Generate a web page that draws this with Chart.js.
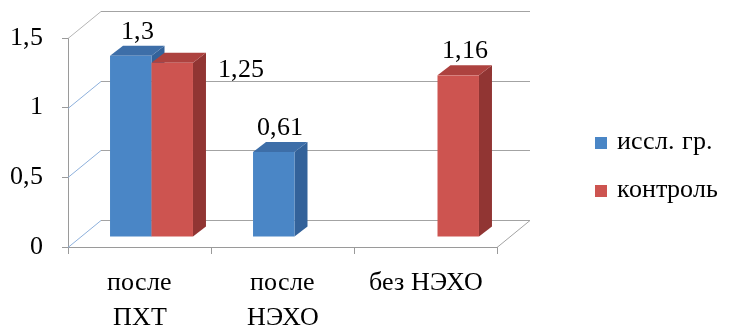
<!DOCTYPE html>
<html>
<head>
<meta charset="utf-8">
<script src="https://cdn.jsdelivr.net/npm/chart.js@4/dist/chart.umd.min.js"></script>
<style>
  @font-face { font-family: 'ChartSerif'; src: local('Liberation Serif'), local('LiberationSerif'); }
  html, body { margin: 0; padding: 0; background: #ffffff; }
  #wrap { width: 733px; height: 328px; }
</style>
</head>
<body>
<div id="wrap"><canvas id="c" width="733" height="328"></canvas></div>
<script>
// Categories, series and axis ticks
const categories = [['после', 'ПХТ'], ['после', 'НЭХО'], 'без НЭХО'];
const seriesNames = ['иссл. гр.', 'контроль'];
const studyValues = [1.3, 0.61, null];
const controlValues = [1.25, null, 1.16];
const yTicks = [0, 0.5, 1, 1.5];

const FONT = "ChartSerif";
const fmt = v => String(v).replace('.', ',');

// Pseudo-3D geometry: back wall offset, bar plane offset and bar depth
const WALL = { dx: 33, dy: -27 };
const BAR_SHIFT = { dx: 12, dy: -10 };
const BAR_DEPTH = { dx: 13, dy: -10 };

const palette = [
  { front: '#4a86c6', side: '#33629a', top: '#3d6ea8', key: '#4a86c6' },
  { front: '#cd5450', side: '#913533', top: '#ad423f', key: '#cd5450' }
];

function line(ctx, x1, y1, x2, y2, color) {
  ctx.beginPath();
  ctx.strokeStyle = color;
  ctx.lineWidth = 1;
  ctx.moveTo(x1, y1);
  ctx.lineTo(x2, y2);
  ctx.stroke();
}

function poly(ctx, pts, color) {
  ctx.beginPath();
  ctx.moveTo(pts[0][0], pts[0][1]);
  for (let i = 1; i < pts.length; i++) ctx.lineTo(pts[i][0], pts[i][1]);
  ctx.closePath();
  ctx.fillStyle = color;
  ctx.fill();
}

const box3d = {
  id: 'box3d',
  afterDatasetsDraw(chart) {
    const ctx = chart.ctx;
    const area = chart.chartArea;
    const ys = chart.scales.y;
    ctx.save();

    // back wall gridlines and side wall diagonals
    yTicks.forEach(v => {
      const py = Math.round(ys.getPixelForValue(v)) + 0.5;
      line(ctx, area.left + WALL.dx, py + WALL.dy, area.right + WALL.dx, py + WALL.dy, '#a3a3a3');
      const sideColor = v === yTicks[yTicks.length - 1] ? '#b5b5b5' : '#8db0dc';
      line(ctx, area.left, py, area.left + WALL.dx, py + WALL.dy, sideColor);
    });
    // right edge of the floor
    const fy = Math.round(ys.getPixelForValue(0)) + 0.5;
    line(ctx, area.right, fy, area.right + WALL.dx, fy + WALL.dy, '#a3a3a3');

    // bars, left to right so each bar covers the side of its neighbour
    const metas = chart.data.datasets.map((d, i) => chart.getDatasetMeta(i));
    const labels = [];
    for (let j = 0; j < chart.data.labels.length; j++) {
      metas.forEach((meta, i) => {
        const val = chart.data.datasets[i].data[j];
        if (val === null || val === undefined) return;
        const el = meta.data[j];
        const p = el.getProps(['x', 'y', 'base', 'width'], true);
        const c = palette[i];
        const l = p.x - p.width / 2 + BAR_SHIFT.dx;
        const r = l + p.width;
        const t = p.y + BAR_SHIFT.dy;
        const b = p.base + BAR_SHIFT.dy;
        const ddx = BAR_DEPTH.dx, ddy = BAR_DEPTH.dy;
        poly(ctx, [[r, t], [r + ddx, t + ddy], [r + ddx, b + ddy], [r, b]], c.side);
        poly(ctx, [[l, t], [l + ddx, t + ddy], [r + ddx, t + ddy], [r, t]], c.top);
        ctx.fillStyle = c.front;
        ctx.fillRect(l, t, r - l, b - t);

        const place = (chart.data.datasets[i].labelPlace || [])[j] || 'top';
        if (place === 'right') {
          labels.push({ text: fmt(val), x: r + ddx + 12, y: t + 14, align: 'left' });
        } else {
          labels.push({ text: fmt(val), x: (l + r) / 2 + ddx / 2, y: t + ddy - 7, align: 'center' });
        }
      });
    }

    // value labels
    ctx.font = '26px ' + FONT;
    ctx.fillStyle = '#000000';
    ctx.textBaseline = 'alphabetic';
    labels.forEach(lb => {
      ctx.textAlign = lb.align;
      ctx.fillText(lb.text, lb.x, lb.y);
    });

    // legend
    const lx = area.right + 98;
    const rows = [149, 197];
    chart.data.datasets.forEach((d, i) => {
      ctx.fillStyle = palette[i].key;
      ctx.fillRect(lx, rows[i] - 12, 12, 12);
      ctx.fillStyle = '#000000';
      ctx.textAlign = 'left';
      ctx.fillText(d.label, lx + 22, rows[i]);
    });

    ctx.restore();
  }
};

let chart = null;
function build() {
  if (chart) { chart.draw(); return; }
  chart = new Chart(document.getElementById('c'), {
    type: 'bar',
    data: {
      labels: categories,
      datasets: [
        { label: seriesNames[0], data: studyValues, backgroundColor: 'rgba(0,0,0,0)', labelPlace: ['top', 'top', 'top'] },
        { label: seriesNames[1], data: controlValues, backgroundColor: 'rgba(0,0,0,0)', labelPlace: ['right', 'top', 'top'] }
      ]
    },
    options: {
      responsive: false,
      animation: false,
      devicePixelRatio: 1,
      layout: { padding: { left: 0, right: 236, top: 38, bottom: 0 } },
      datasets: { bar: { barPercentage: 1, categoryPercentage: 0.58, grouped: true } },
      plugins: { legend: { display: false }, tooltip: { enabled: false } },
      scales: {
        y: {
          min: 0, max: 1.5,
          afterBuildTicks: s => { s.ticks = yTicks.map(v => ({ value: v })); },
          afterFit: s => { s.width = 68; },
          border: { display: true, color: '#9a9a9a' },
          grid: { display: true, drawOnChartArea: false, drawTicks: true, tickLength: 6, color: '#9a9a9a' },
          ticks: { padding: 19, color: '#000000', font: { family: FONT, size: 26 }, callback: v => fmt(v) }
        },
        x: {
          offset: true,
          afterFit: s => { s.height = 81; },
          border: { display: true, color: '#9a9a9a' },
          grid: { display: true, offset: true, drawOnChartArea: false, drawTicks: true, tickLength: 7, color: '#9a9a9a' },
          ticks: { padding: 12, color: '#000000', maxRotation: 0, autoSkip: false, font: { family: FONT, size: 26, lineHeight: 1.35 } }
        }
      }
    },
    plugins: [box3d]
  });
}

// wait for the serif face, then draw; redraw once more after fonts settle
document.fonts.load('26px ChartSerif', '0,5 после ПХТ НЭХО без иссл. гр. контроль').then(build, build);
setTimeout(() => { if (chart) chart.draw(); }, 300);
</script>
</body>
</html>
